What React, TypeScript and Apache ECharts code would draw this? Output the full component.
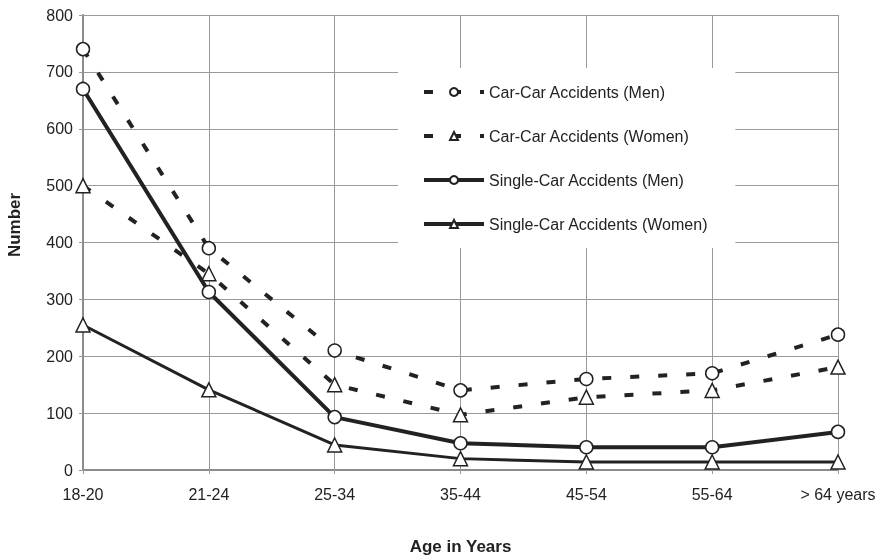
import React, { useEffect, useRef } from "react";
import * as echarts from "echarts";

const categories = ["18-20", "21-24", "25-34", "35-44", "45-54", "55-64", "> 64 years"];
const carCarMen = [740, 390, 210, 140, 160, 170, 238];
const carCarWomen = [500, 345, 150, 97, 128, 140, 181];
const singleCarMen = [670, 313, 93, 47, 40, 40, 67];
const singleCarWomen = [255, 141, 44, 20, 14, 14, 14];
const yTicks = { min: 0, max: 800, interval: 100 };

const FONT = "'Liberation Sans', Arial, Helvetica, sans-serif";
const INK = "#222";
const GRID = "#9a9a9a";

export default function App() {
  const ref = useRef<HTMLDivElement>(null);
  useEffect(() => {
    if (!ref.current) return;
    const chart = echarts.init(ref.current, null, { renderer: "svg" });
    const marker = (symbol: string, size: number) => ({
      symbol,
      symbolSize: size,
      showSymbol: true,
      itemStyle: { color: "#fff", borderColor: INK, borderWidth: 1.5 },
    });
    chart.setOption({
      animation: false,
      textStyle: { fontFamily: FONT },
      grid: { left: 83, right: 47, top: 15, bottom: 90, containLabel: false },
      legend: {
        orient: "vertical",
        left: 398,
        top: 68,
        backgroundColor: "#fff",
        padding: [16, 27, 16, 24],
        itemWidth: 60,
        itemHeight: 10,
        itemGap: 28,
        selectedMode: false,
        lineStyle: { width: 4 },
        textStyle: { fontSize: 16, color: INK, fontFamily: FONT },
        z: 10,
      },
      xAxis: {
        type: "category",
        data: categories,
        boundaryGap: false,
        name: "Age in Years",
        nameLocation: "middle",
        nameGap: 68,
        nameTextStyle: { fontSize: 17, fontWeight: "bold", color: INK, fontFamily: FONT },
        axisLine: { lineStyle: { color: "#8c8c8c", width: 2 } },
        axisTick: { show: true, length: 4, lineStyle: { color: GRID } },
        axisLabel: { fontSize: 16, color: INK, margin: 16, fontFamily: FONT },
        splitLine: { show: true, lineStyle: { color: GRID, width: 1 } },
      },
      yAxis: {
        type: "value",
        min: yTicks.min,
        max: yTicks.max,
        interval: yTicks.interval,
        axisLine: { show: true, lineStyle: { color: "#8c8c8c", width: 2 } },
        axisTick: { show: true, length: 4, lineStyle: { color: GRID } },
        axisLabel: { fontSize: 16, color: INK, margin: 10, fontFamily: FONT },
        splitLine: { show: true, lineStyle: { color: GRID, width: 1 } },
      },
      graphic: [
        {
          type: "text",
          x: 14,
          y: 225,
          rotation: Math.PI / 2,
          style: {
            text: "Number",
            fontSize: 17,
            fontWeight: "bold",
            fill: INK,
            fontFamily: FONT,
            align: "center",
            verticalAlign: "middle",
          },
        },
      ],
      series: [
        {
          name: "Car-Car Accidents (Men)",
          type: "line",
          data: carCarMen,
          ...marker("circle", 13),
          lineStyle: { color: INK, width: 4, type: [9, 19], cap: "butt" },
          z: 2,
        },
        {
          name: "Car-Car Accidents (Women)",
          type: "line",
          data: carCarWomen,
          ...marker("triangle", 14),
          lineStyle: { color: INK, width: 4, type: [9, 19], cap: "butt" },
          z: 2,
        },
        {
          name: "Single-Car Accidents (Men)",
          type: "line",
          data: singleCarMen,
          ...marker("circle", 13),
          lineStyle: { color: INK, width: 4, type: "solid" },
          z: 3,
        },
        {
          name: "Single-Car Accidents (Women)",
          type: "line",
          data: singleCarWomen,
          ...marker("triangle", 14),
          lineStyle: { color: INK, width: 3, type: "solid" },
          z: 3,
        },
      ],
    });
    return () => chart.dispose();
  }, []);
  return (
    <div
      ref={ref}
      style={{ position: "fixed", left: 0, top: 0, width: 885, height: 560 }}
    />
  );
}
